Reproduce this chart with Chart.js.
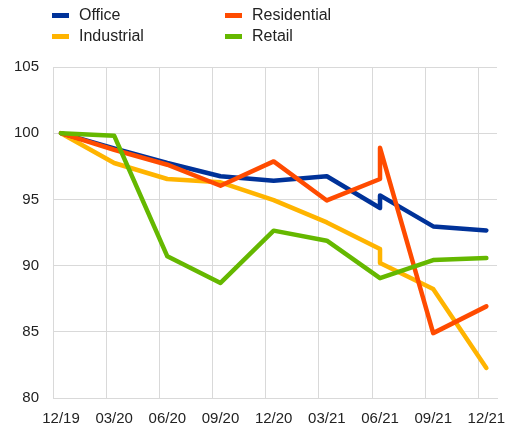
<!DOCTYPE html>
<html>
<head>
<meta charset="utf-8">
<script src="https://cdn.jsdelivr.net/npm/chart.js@4.4.1/dist/chart.umd.min.js"></script>
<style>
  html, body { margin: 0; padding: 0; background: #fff; }
  #wrap { position: relative; width: 505px; height: 428px; }
  #legend { position: absolute; left: 0; top: 0; width: 505px; height: 50px;
            font-family: "Liberation Sans", Arial, sans-serif; font-size: 16px; color: #222; }
  .item { position: absolute; display: flex; align-items: center; height: 20px; white-space: nowrap; }
  .box { width: 17px; height: 5px; margin-right: 10px; }
</style>
</head>
<body>
<div id="wrap">
  <canvas id="c" width="505" height="428"></canvas>
  <div id="legend"></div>
</div>
<script>
// ---- data ----
const categories = ["12/19", "03/20", "06/20", "09/20", "12/20", "03/21", "06/21", "09/21", "12/21"];
const seriesNames = ["Office", "Residential", "Industrial", "Retail"];
// a pair [a, b] means two readings at the same date (vertical step)
const office      = [100, 98.85, 97.75, 96.75, 96.4, 96.75, [94.35, 95.3], 92.96, 92.66];
const residential = [100, 98.75, 97.62, 96.03, 97.87, 94.92, [96.54, 98.9], 84.9, 86.92];
const industrial  = [100, 97.75, 96.54, 96.29, 94.95, 93.26, [91.25, 90.2], 88.23, 82.27];
const retail      = [100, 99.81, 90.7, 88.69, 92.64, 91.88, 89.05, 90.42, 90.57];
const yTicks = [80, 85, 90, 95, 100, 105];

const colors = ["#003299", "#FF4B00", "#FFB400", "#65B800"];
const seriesValues = [office, residential, industrial, retail];

function toPoints(arr) {
  const pts = [];
  arr.forEach((v, i) => {
    if (Array.isArray(v)) v.forEach(w => pts.push({ x: i, y: w }));
    else pts.push({ x: i, y: v });
  });
  return pts;
}

// stacking (first = on top): Retail, Residential, Office, Industrial
const drawOrder = [3, 1, 0, 2];
const datasets = drawOrder.map(k => ({
  label: seriesNames[k],
  data: toPoints(seriesValues[k]),
  borderColor: colors[k],
  backgroundColor: colors[k],
  borderWidth: 4.5,
  pointRadius: 0,
  tension: 0,
  borderJoinStyle: "round",
  borderCapStyle: "round",
  fill: false
}));

// ---- HTML legend (2 columns) ----
const legendPos = [[52, 5], [225, 5], [52, 26], [225, 26]];
const legendOrder = [0, 1, 2, 3];
const legend = document.getElementById("legend");
legendOrder.forEach((k, j) => {
  const it = document.createElement("div");
  it.className = "item";
  it.style.left = legendPos[j][0] + "px";
  it.style.top = legendPos[j][1] + "px";
  const b = document.createElement("span");
  b.className = "box";
  b.style.background = colors[k];
  const t = document.createElement("span");
  t.textContent = seriesNames[k];
  it.appendChild(b); it.appendChild(t);
  legend.appendChild(it);
});

const FONT = { family: "'Liberation Sans', Arial, sans-serif", size: 15 };
const GRID = "#d9d9d9";
const SHIFT = 0.15;

new Chart(document.getElementById("c"), {
  type: "line",
  data: { datasets },
  options: {
    responsive: false,
    animation: false,
    layout: { padding: { top: 67, right: 8, bottom: 0, left: 0 } },
    plugins: { legend: { display: false }, tooltip: { enabled: false } },
    scales: {
      x: {
        type: "linear",
        min: -SHIFT,
        max: 8.2,
        afterBuildTicks: s => { s.ticks = categories.map((_, i) => ({ value: i - SHIFT })); },
        afterFit: s => { s.height = 30; s.paddingLeft = 0; s.paddingRight = 0; },
        grid: { color: GRID, lineWidth: 1, drawTicks: false },
        border: { color: GRID, width: 1 },
        ticks: {
          font: FONT, color: "#222", padding: 12, labelOffset: 8,
          maxRotation: 0, autoSkip: false,
          callback: (v, i) => categories[i]
        }
      },
      y: {
        min: 80, max: 105,
        afterBuildTicks: s => { s.ticks = yTicks.map(v => ({ value: v })); },
        afterFit: s => { s.width = 53; s.paddingTop = 0; s.paddingBottom = 0; },
        grid: { color: GRID, lineWidth: 1, drawTicks: false },
        border: { color: GRID, width: 1 },
        ticks: { font: FONT, color: "#222", padding: 14 }
      }
    }
  }
});
</script>
</body>
</html>
